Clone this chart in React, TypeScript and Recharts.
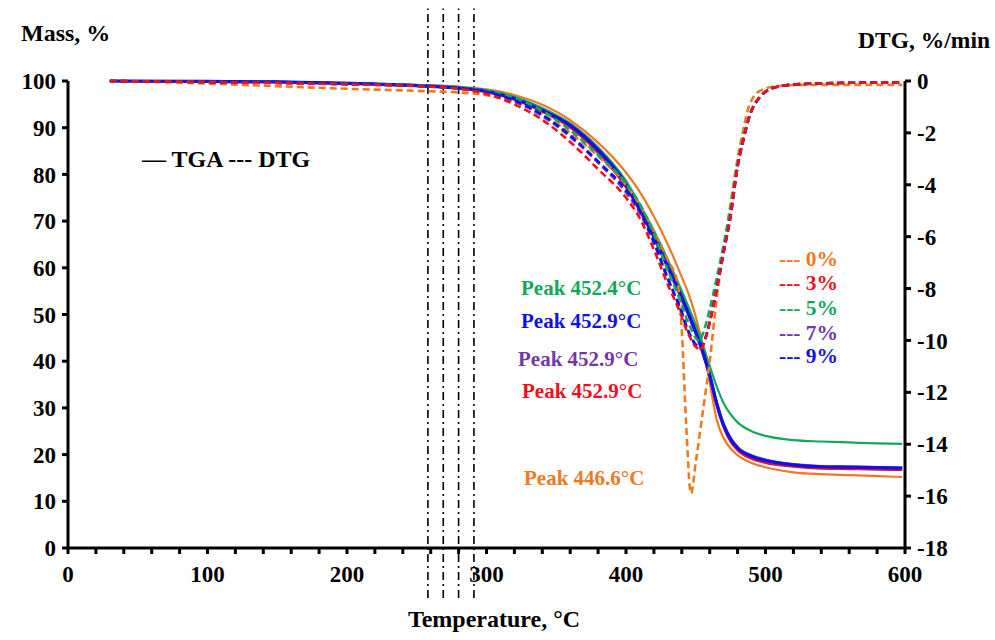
import { LineChart, Line, XAxis, YAxis, ReferenceLine } from 'recharts';

// temperature grid for the TGA curves, °C
const TGA_TEMPS = [30, 100, 150, 200, 250, 280, 300, 320, 340, 360, 380, 400, 410, 420, 430, 440, 445, 450, 455, 460, 465, 470, 475, 480, 490, 500, 520, 540, 560, 580, 598];

// mass, %
const TGA_0 = [100, 99.9, 99.8, 99.6, 99.2, 98.8, 98.2, 97.0, 94.9, 91.6, 86.8, 80.4, 76.2, 71.0, 65.0, 58.0, 54.3, 49.5, 43.5, 35.5, 27.5, 23.5, 21.3, 19.9, 18.2, 17.3, 16.2, 15.8, 15.6, 15.4, 15.2];
const TGA_3 = [100, 99.9, 99.8, 99.5, 99.0, 98.4, 97.6, 96.0, 93.4, 90.0, 84.6, 77.2, 72.0, 66.3, 59.8, 53.1, 49.6, 45.8, 41.6, 36.5, 30.4, 25.8, 22.7, 20.9, 19.1, 18.2, 17.4, 17.0, 16.9, 16.8, 16.7];
const TGA_5 = [100, 99.9, 99.8, 99.5, 99.1, 98.6, 98.0, 96.6, 94.2, 90.9, 85.8, 78.6, 73.5, 68.0, 61.7, 55.0, 51.5, 47.8, 43.6, 39.0, 34.6, 31.0, 28.6, 26.9, 25.0, 24.0, 23.1, 22.8, 22.6, 22.4, 22.3];
const TGA_7 = [100, 99.9, 99.8, 99.5, 99.0, 98.5, 97.8, 96.3, 93.8, 90.6, 85.4, 78.0, 72.7, 67.0, 60.5, 53.8, 50.2, 46.4, 42.2, 37.2, 31.2, 26.5, 23.5, 21.6, 19.8, 18.9, 17.9, 17.5, 17.4, 17.3, 17.2];
const TGA_9 = [100, 99.9, 99.8, 99.5, 99.0, 98.5, 97.8, 96.2, 93.7, 90.5, 85.2, 77.8, 72.5, 66.8, 60.3, 53.6, 50.0, 46.2, 42.0, 37.0, 31.0, 26.3, 23.3, 21.4, 19.6, 18.7, 17.8, 17.4, 17.3, 17.2, 17.1];

// temperature grid for the DTG curves, °C
const DTG_TEMPS = [30, 100, 150, 200, 250, 280, 300, 320, 340, 360, 380, 400, 410, 420, 430, 437, 440, 443, 446.6, 450, 452.4, 452.9, 456, 460, 465, 470, 475, 480, 484, 488, 496, 508, 525, 560, 598];

// DTG, %/min
const DTG_0 = [0, -0.1, -0.2, -0.3, -0.38, -0.44, -0.55, -0.8, -1.3, -2.0, -2.9, -4.0, -4.8, -5.8, -6.9, -7.8, -9.6, -13.1, -15.9, -14.7, -13.8, -13.6, -12.4, -10.8, -8.4, -6.5, -4.7, -3.0, -1.9, -1.0, -0.38, -0.2, -0.15, -0.15, -0.15];
const DTG_3 = [0, -0.04, -0.08, -0.13, -0.2, -0.3, -0.5, -0.9, -1.5, -2.35, -3.4, -4.5, -5.3, -6.5, -7.85, -8.7, -9.1, -9.55, -9.95, -10.25, -10.35, -10.38, -10.1, -9.3, -8.0, -6.6, -5.2, -3.3, -2.3, -1.45, -0.62, -0.23, -0.12, -0.07, -0.05];
const DTG_5 = [0, -0.04, -0.07, -0.11, -0.17, -0.24, -0.38, -0.65, -1.15, -1.9, -2.85, -3.95, -4.75, -5.9, -7.3, -8.2, -8.6, -9.1, -9.55, -9.9, -10.02, -10.0, -9.6, -8.8, -7.6, -6.3, -4.9, -3.2, -2.2, -1.4, -0.6, -0.22, -0.12, -0.07, -0.05];
const DTG_7 = [0, -0.04, -0.07, -0.12, -0.19, -0.28, -0.44, -0.78, -1.35, -2.15, -3.15, -4.3, -5.1, -6.25, -7.65, -8.55, -8.95, -9.45, -9.9, -10.2, -10.3, -10.32, -10.05, -9.3, -8.0, -6.6, -5.2, -3.3, -2.3, -1.45, -0.62, -0.23, -0.12, -0.07, -0.05];
const DTG_9 = [0, -0.04, -0.07, -0.12, -0.19, -0.27, -0.42, -0.75, -1.3, -2.1, -3.1, -4.2, -5.0, -6.2, -7.6, -8.5, -8.9, -9.4, -9.85, -10.15, -10.28, -10.3, -10.05, -9.3, -8.0, -6.6, -5.2, -3.3, -2.3, -1.45, -0.62, -0.23, -0.12, -0.07, -0.05];

// dash-dot guide lines, °C
const GUIDES = [258, 269, 280, 291];

const X_TICKS = Array.from({ length: 31 }, (_, i) => i * 20);
const MASS_TICKS = [0, 10, 20, 30, 40, 50, 60, 70, 80, 90, 100];
const DTG_TICKS = [-18, -16, -14, -12, -10, -8, -6, -4, -2, 0];

const ORANGE = '#ec7a23';
const RED = '#f0101c';
const GREEN = '#12a85a';
const PURPLE = '#7438a6';
const BLUE = '#1010e8';

const FONT = '"Liberation Serif", "Times New Roman", serif';

const toPts = (temps: number[], vals: number[]) => temps.map((t, i) => ({ t, v: vals[i] }));

const TGA = [
    { name: '0%', color: ORANGE, vals: TGA_0, w: 2.2 },
    { name: '5%', color: GREEN, vals: TGA_5, w: 2.2 },
    { name: '3%', color: RED, vals: TGA_3, w: 2.2 },
    { name: '7%', color: PURPLE, vals: TGA_7, w: 2.6 },
    { name: '9%', color: BLUE, vals: TGA_9, w: 3.2 },
];

const DTG = [
    { name: '0%', color: ORANGE, vals: DTG_0 },
    { name: '5%', color: GREEN, vals: DTG_5 },
    { name: '7%', color: PURPLE, vals: DTG_7 },
    { name: '9%', color: BLUE, vals: DTG_9 },
    { name: '3%', color: RED, vals: DTG_3 },
];

const PEAKS = [
    { label: 'Peak 452.4°C', color: GREEN, x: 521, y: 295 },
    { label: 'Peak 452.9°C', color: BLUE, x: 521, y: 328 },
    { label: 'Peak 452.9°C', color: PURPLE, x: 518, y: 366 },
    { label: 'Peak 452.9°C', color: RED, x: 522, y: 398 },
    { label: 'Peak 446.6°C', color: ORANGE, x: 524, y: 485 },
];

const LEGEND = [
    { label: '0%', color: ORANGE, y: 266 },
    { label: '3%', color: RED, y: 290 },
    { label: '5%', color: GREEN, y: 315 },
    { label: '7%', color: PURPLE, y: 340 },
    { label: '9%', color: BLUE, y: 363 },
];

const tickStyle = { fill: '#000', fontSize: 23, fontWeight: 'bold', fontFamily: FONT };
const axisStyle = { stroke: '#000', strokeWidth: 3 };

export default function App() {
    return (
        <div style={{ position: 'absolute', left: 0, top: 0, width: 995, height: 640, background: '#fff' }}>
            <LineChart width={995} height={640} margin={{ top: 81, right: 0, bottom: 52, left: 0 }}>
                <XAxis type="number" dataKey="t" domain={[0, 600]} ticks={X_TICKS} interval={0}
                    tickFormatter={(v: number) => (v % 100 === 0 ? String(v) : '')}
                    axisLine={axisStyle} tickLine={axisStyle} tickSize={6} tick={tickStyle} tickMargin={12} height={40} allowDataOverflow />
                <YAxis yAxisId="mass" domain={[0, 100]} ticks={MASS_TICKS} interval={0} width={68}
                    axisLine={axisStyle} tickLine={axisStyle} tickSize={6} tick={tickStyle} tickMargin={6} />
                <YAxis yAxisId="dtg" orientation="right" domain={[-18, 0]} ticks={DTG_TICKS} interval={0} width={90}
                    axisLine={axisStyle} tickLine={axisStyle} tickSize={6} tick={{ ...tickStyle, textAnchor: 'start' }} tickMargin={6} />
                {GUIDES.map(g => (
                    <ReferenceLine key={g} yAxisId="mass" ifOverflow="visible"
                        segment={[{ x: g, y: -10.7 }, { x: g, y: 115.5 }]}
                        stroke="#000" strokeWidth={1.6} strokeDasharray="8 4 2 4" />
                ))}
                {TGA.map(s => (
                    <Line key={'tga' + s.name} yAxisId="mass" data={toPts(TGA_TEMPS, s.vals)} dataKey="v" type="monotone"
                        stroke={s.color} strokeWidth={s.w} dot={false} isAnimationActive={false} />
                ))}
                {DTG.map(s => (
                    <Line key={'dtg' + s.name} yAxisId="dtg" data={toPts(DTG_TEMPS, s.vals)} dataKey="v" type="monotone"
                        stroke={s.color} strokeWidth={2.6} strokeDasharray="7 4" dot={false} isAnimationActive={false} />
                ))}
            </LineChart>
            <svg width={995} height={640} style={{ position: 'absolute', left: 0, top: 0, pointerEvents: 'none' }}
                fontFamily={FONT} fontWeight="bold">
                <text x={21} y={41} fontSize={24}>Mass, %</text>
                <text x={990} y={48} fontSize={23.5} textAnchor="end">DTG, %/min</text>
                <text x={142} y={167} fontSize={24}>— TGA --- DTG</text>
                <text x={494} y={627} fontSize={24} textAnchor="middle">Temperature, °C</text>
                {PEAKS.map((p, i) => (
                    <text key={i} x={p.x} y={p.y} fontSize={21} fill={p.color}>{p.label}</text>
                ))}
                {LEGEND.map(l => (
                    <text key={l.label} x={779} y={l.y} fontSize={21.5} fill={l.color}>--- {l.label}</text>
                ))}
            </svg>
        </div>
    );
}
